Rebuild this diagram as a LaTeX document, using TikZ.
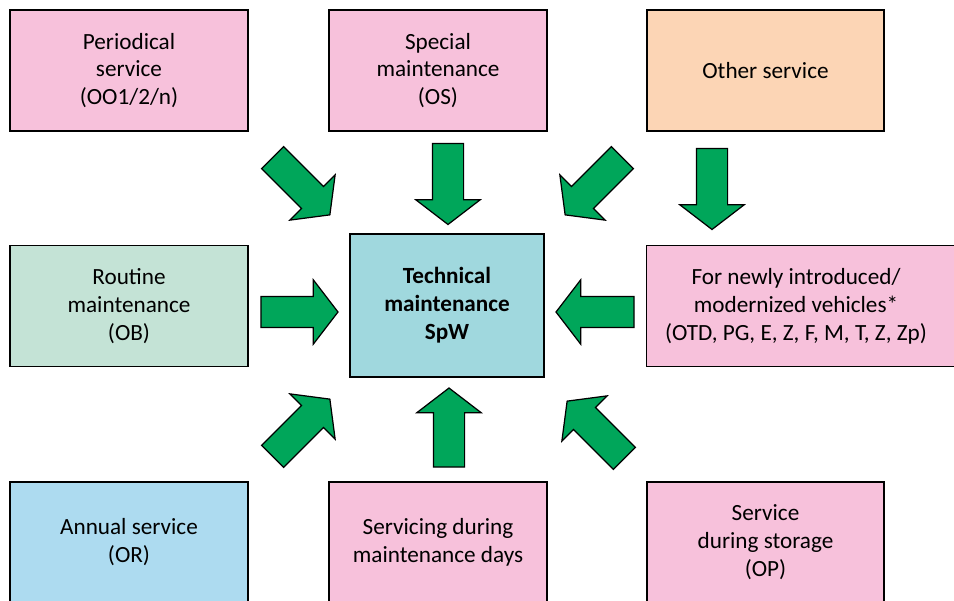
\documentclass[tikz,border=0pt]{standalone}
\usepackage{fontspec}
\setmainfont{Carlito}
\usetikzlibrary{shapes.arrows}
\definecolor{pinkfill}{RGB}{247,193,219}
\definecolor{peachfill}{RGB}{252,213,181}
\definecolor{sagefill}{RGB}{196,227,214}
\definecolor{tealfill}{RGB}{160,216,222}
\definecolor{skyfill}{RGB}{173,219,240}
\definecolor{arrgreen}{RGB}{0,166,90}
\tikzset{
  box/.style   ={draw,line width=0.8pt,align=center,minimum height=2.42cm,
                 font=\fontsize{13.2}{15.9}\selectfont,inner sep=3pt},
  pbox/.style  ={box,fill=pinkfill},
  obox/.style  ={box,fill=peachfill},
  gbox/.style  ={box,fill=sagefill},
  bbox/.style  ={box,fill=skyfill},
  cbox/.style  ={box,fill=tealfill,minimum width=3.88cm,minimum height=2.86cm,
                 font=\fontsize{13.2}{15.9}\selectfont\bfseries},
  txt/.style   ={align=center,font=\fontsize{13.2}{15.9}\selectfont,inner sep=0pt},
  bigarrow/.style={single arrow,draw,line width=0.7pt,fill=arrgreen,
                 inner xsep=0pt,inner ysep=0.3cm,single arrow head extend=0.33cm,
                 single arrow tip angle=105,minimum height=1.62cm},
}

\begin{document}
\begin{tikzpicture}[x=0.02cm,y=-0.02cm]
  \useasboundingbox (0,0) rectangle (954,601);

  % centre
  \node[cbox] (spw) at (447,305.5) {Technical\\maintenance\\SpW};

  % top row
  \node[pbox,minimum width=4.76cm] (oo) at (129,70.5) {Periodical\\service\\(OO1/2/n)};
  \node[pbox,minimum width=4.36cm] (os) at (438,70.5) {Special\\maintenance\\(OS)};
  \node[obox,minimum width=4.74cm] (oth) at (765.5,70.5) {Other service};

  % middle row
  \node[gbox,minimum width=4.76cm] (ob) at (129,306) {Routine\\maintenance\\(OB)};
  \node[pbox,minimum width=6.3cm] (new) at (804,306) {};
  \node[txt] (newtxt) at (796,306)
    {For newly introduced/\\modernized vehicles*\\(OTD, PG, E, Z, F, M, T, Z, Zp)};

  % bottom row
  \node[bbox,minimum width=4.76cm] (or) at (129,542.5) {Annual service\\(OR)};
  \node[pbox,minimum width=4.36cm] (sd) at (438,542.5) {Servicing during\\maintenance days};
  \node[pbox,minimum width=4.74cm] (op) at (765.5,542.5) {Service\\during storage\\(OP)};

  % arrows
  \node[bigarrow,rotate=-45]  (a1) at (297,182) {};
  \node[bigarrow,rotate=-90]  (a2) at (448,178) {};
  \node[bigarrow,rotate=-135] (a3) at (598,182) {};
  \node[bigarrow,rotate=-90]  (a4) at (712,183) {};
  \node[bigarrow,minimum height=1.54cm] (a5) at (293.5,312) {};
  \node[bigarrow,rotate=180,minimum height=1.56cm] (a6) at (601,312) {};
  \node[bigarrow,rotate=45]   (a7) at (297,432) {};
  \node[bigarrow,rotate=90,minimum height=1.58cm] (a8) at (449,433.5) {};
  \node[bigarrow,rotate=135]  (a9) at (600,434) {};
\end{tikzpicture}
\end{document}
